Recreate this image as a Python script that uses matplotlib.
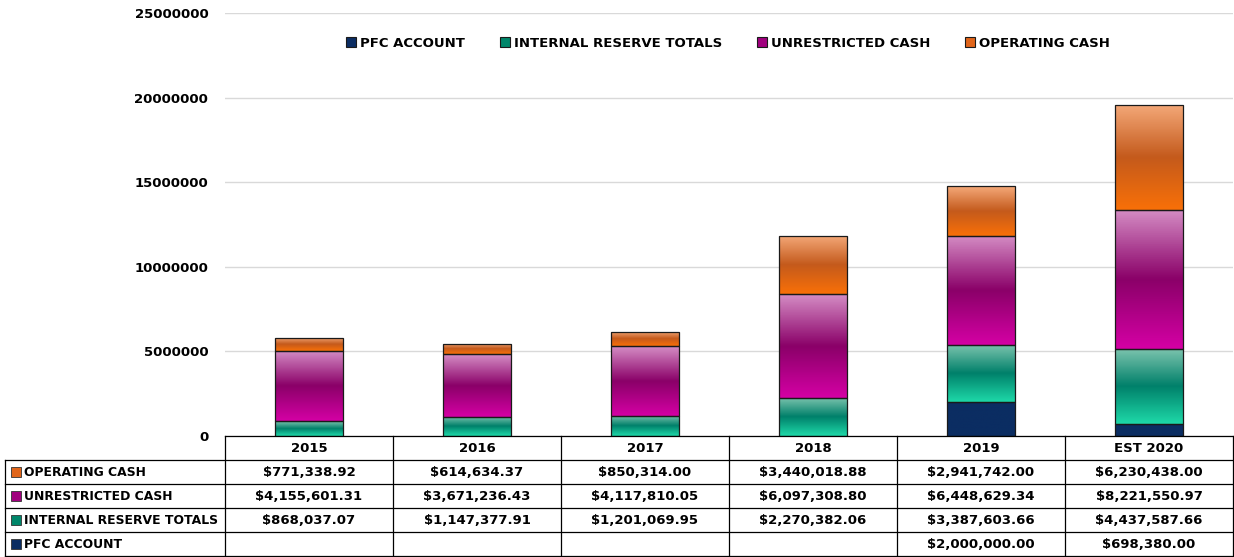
import numpy as np
import matplotlib
matplotlib.use("Agg")
import matplotlib.pyplot as plt
import matplotlib.patches as mpatches
from matplotlib.colors import LinearSegmentedColormap

# ─── Data ──────────────────────────────────────────────────────────────────────

years = ["2015", "2016", "2017", "2018", "2019", "EST 2020"]
pfc_account = [None, None, None, None, 2000000.00, 698380.00]
internal_reserve = [868037.07, 1147377.91, 1201069.95, 2270382.06, 3387603.66, 4437587.66]
unrestricted_cash = [4155601.31, 3671236.43, 4117810.05, 6097308.80, 6448629.34, 8221550.97]
operating_cash = [771338.92, 614634.37, 850314.00, 3440018.88, 2941742.00, 6230438.00]

y_ticks = [0, 5000000, 10000000, 15000000, 20000000, 25000000]

# series: name, values, solid colour, gradient (top, middle, bottom)
series = [
    ("PFC ACCOUNT", pfc_account, "#0B2D62", ("#0B2D62", "#0B2D62", "#0B2D62")),
    ("INTERNAL RESERVE TOTALS", internal_reserve, "#00866A", ("#7CC4AE", "#00806A", "#1ED8A8")),
    ("UNRESTRICTED CASH", unrestricted_cash, "#A0007E", ("#D48CC4", "#8A0068", "#D400A4")),
    ("OPERATING CASH", operating_cash, "#E0651A", ("#F4A878", "#C45A1C", "#F87008")),
]

FONT = "DejaVu Sans"
W, H = 1234, 557

# ─── Figure ────────────────────────────────────────────────────────────────────

fig = plt.figure(figsize=(W / 100, H / 100), dpi=100)
ax = fig.add_axes([225 / W, 1 - 436 / H, (1233 - 225) / W, (436 - 13) / H])

x = np.arange(len(years))
bottom = np.zeros(len(years))
bar_w = 0.41
for name, vals, col, grad in series:
    v = np.array([0 if val is None else val for val in vals], dtype=float)
    bars = ax.bar(x, v, bar_w, bottom=bottom, color=col, edgecolor="#1a1a1a",
                  linewidth=0.9, zorder=3)
    cmap = LinearSegmentedColormap.from_list(name, [grad[2], grad[1], grad[0]])
    img = np.linspace(0, 1, 64).reshape(-1, 1)
    for b, val in zip(bars, v):
        if val <= 0:
            continue
        x0, y0 = b.get_x(), b.get_y()
        im = ax.imshow(img, extent=[x0, x0 + b.get_width(), y0, y0 + b.get_height()],
                       origin="lower", aspect="auto", cmap=cmap, zorder=3.5)
        im.set_clip_path(b)
        b.set_facecolor("none")
        b.set_zorder(4)
    bottom += v

ax.set_xlim(-0.5, len(years) - 0.5)
ax.set_ylim(0, 25000000)
ax.set_yticks(y_ticks)
ax.set_yticklabels([str(t) for t in y_ticks], fontsize=9.5, fontweight="bold", family=FONT)
ax.tick_params(axis="y", length=0, pad=12)
ax.set_xticks([])
ax.grid(axis="y", color="#d9d9d9", linewidth=1, zorder=0)
for s in ax.spines.values():
    s.set_visible(False)

handles = [mpatches.Patch(facecolor=col, edgecolor="#1a1a1a", linewidth=0.8, label=name)
           for name, _, col, _ in series]
fig.legend(handles=handles, loc="center", bbox_to_anchor=(0.59, 1 - 43 / H), ncol=4,
           frameon=False, handlelength=0.8, handleheight=0.8, handletextpad=0.3,
           columnspacing=2.6, prop={"family": FONT, "weight": "bold", "size": 9.5})

# ─── Data table ────────────────────────────────────────────────────────────────

tx = fig.add_axes([0, 0, 1, 1], zorder=5)
tx.set_xlim(0, W)
tx.set_ylim(H, 0)
tx.axis("off")
tx.patch.set_alpha(0)

col_edges = np.linspace(225, 1233, len(years) + 1)
row_edges = [436, 460, 484, 508, 532, 556]
lw = 0.9
tx.plot([225, 1233], [436, 436], color="black", lw=lw)
for yy in row_edges[1:]:
    tx.plot([5, 1233], [yy, yy], color="black", lw=lw)
for xx in col_edges:
    tx.plot([xx, xx], [436, 556], color="black", lw=lw)
tx.plot([5, 5], [460, 556], color="black", lw=lw)

for i, yr in enumerate(years):
    cx = (col_edges[i] + col_edges[i + 1]) / 2
    tx.text(cx, 448, yr, ha="center", va="center", fontsize=9.5, fontweight="bold", family=FONT)

for r, (name, vals, col, _) in enumerate(reversed(series)):
    cy = (row_edges[r + 1] + row_edges[r + 2]) / 2
    tx.add_patch(mpatches.Rectangle((11, cy - 5), 10, 10, facecolor=col,
                                    edgecolor="#333333", linewidth=0.6))
    tx.text(24, cy, name, ha="left", va="center", fontsize=8.9, fontweight="bold", family=FONT)
    for i, val in enumerate(vals):
        if val is None:
            continue
        cx = (col_edges[i] + col_edges[i + 1]) / 2
        tx.text(cx, cy, f"${val:,.2f}", ha="center", va="center", fontsize=9.5,
                fontweight="bold", family=FONT)

fig.savefig("out.png", dpi=100)
